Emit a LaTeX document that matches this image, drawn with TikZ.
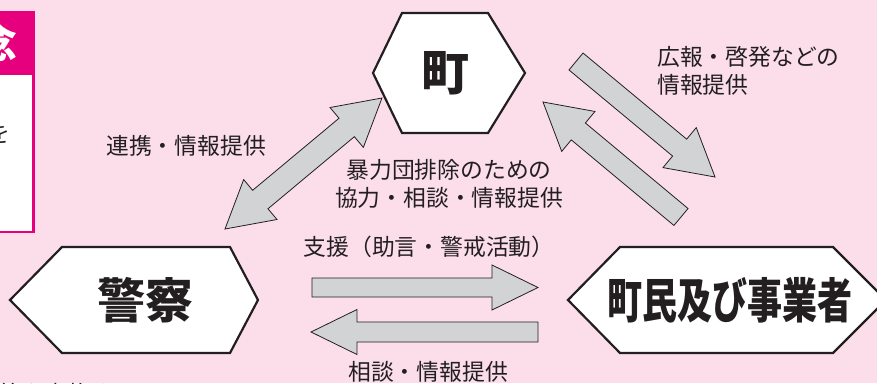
\documentclass[tikz,border=0pt]{standalone}
\usepackage{fontspec}
\newfontfamily\cjk{Noto Sans CJK JP}
\usetikzlibrary{calc}
\definecolor{bgpink}{RGB}{251,222,234}
\definecolor{magen}{RGB}{230,0,126}
\definecolor{agray}{RGB}{209,211,212}
\definecolor{ink}{RGB}{35,31,32}
\tikzset{
  arrowstyle/.style={fill=agray, draw=ink, line width=0.8pt, line join=miter},
  hexstyle/.style={fill=white, draw=ink, line width=2.2pt, line join=miter},
  biglabel/.style={font=\cjk\bfseries\fontsize{48}{50}\selectfont, text=ink, inner sep=0pt},
  lbl/.style={font=\cjk\fontsize{22.8}{27.5}\selectfont, text=ink, inner sep=0pt, align=center},
}
\newcommand\blockarrow[5]{%
  \coordinate (ba-n) at ($(#2)!#5!(#1)$);
  \draw[arrowstyle] ($(#1)!#3!90:(#2)$) -- ($(ba-n)!#3!-90:(#1)$) -- ($(ba-n)!#4!-90:(#1)$) -- (#2) -- ($(ba-n)!#4!90:(#1)$) -- ($(ba-n)!#3!90:(#1)$) -- ($(#1)!#3!-90:(#2)$) -- cycle;
}
\newcommand\dblockarrow[5]{%
  \coordinate (ba-a) at ($(#1)!#5!(#2)$);
  \coordinate (ba-b) at ($(#2)!#5!(#1)$);
  \draw[arrowstyle] (#1) -- ($(ba-a)!#4!90:(#2)$) -- ($(ba-a)!#3!90:(#2)$) -- ($(ba-b)!#3!-90:(#1)$) -- ($(ba-b)!#4!-90:(#1)$) -- (#2) -- ($(ba-b)!#4!90:(#1)$) -- ($(ba-b)!#3!90:(#1)$) -- ($(ba-a)!#3!-90:(#2)$) -- ($(ba-a)!#4!-90:(#2)$) -- cycle;
}
\begin{document}
\begin{tikzpicture}[x=1pt, y=-1pt]
\useasboundingbox (0,0) rectangle (877,383);
\fill[bgpink] (0,0) rectangle (877,383);
\clip (0,0) rectangle (877,383);

% top-left box fragment
\draw[fill=white, draw=magen, line width=2.5pt] (-10,12) rectangle (33.5,232);
\fill[magen] (-10,11) rectangle (34.8,75);
\node[font=\cjk\bfseries\fontsize{40}{40}\selectfont, text=white, inner sep=0pt] (boxhead) at (-2,43) {念};
\node[lbl] (boxbody) at (-1,134) {を};
\node[lbl, anchor=west] (bottomtext) at (-1,394) {策を実施する};

% hexagons
\draw[hexstyle] (402,13) -- (488,13) -- (525,73) -- (488,133) -- (402,133) -- (373,73) -- cycle;
\node[biglabel] (machi) at (445,73) {町};

\draw[hexstyle] (62,247) -- (230,247) -- (258,300) -- (230,353) -- (62,353) -- (10,300) -- cycle;
\node[biglabel] (keisatsu) at (145,300) {警察};

\draw[hexstyle] (620,247) -- (833,247) -- (886,300) -- (833,353) -- (620,353) -- (568,300) -- cycle;
\node[biglabel, xscale=0.73] (jumin) at (730,300) {町民及び事業者};

% arrow end points
\coordinate (d1) at (225,229);
\coordinate (d2) at (382,98);
\coordinate (a1t) at (576,61.5);
\coordinate (a1h) at (715,177);
\coordinate (a2t) at (681,217);
\coordinate (a2h) at (543,102);
\coordinate (h1t) at (312,287.5);
\coordinate (h1h) at (538,287.5);
\coordinate (h2t) at (538,332);
\coordinate (h2h) at (311,332);

\dblockarrow{d1}{d2}{12pt}{26pt}{46pt}
\blockarrow{a1t}{a1h}{11pt}{26pt}{46pt}
\blockarrow{a2t}{a2h}{11pt}{26pt}{46pt}
\blockarrow{h1t}{h1h}{9.5pt}{22.5pt}{46pt}
\blockarrow{h2t}{h2h}{10pt}{22.5pt}{46pt}

% labels
\node[lbl] (l1) at (186,146) {連携・情報提供};
\node[lbl] (l2) at (449,184) {暴力団排除のための\\協力・相談・情報提供};
\node[lbl] (l3) at (429,247) {支援（助言・警戒活動）};
\node[lbl] (l4) at (428,372) {相談・情報提供};
\node[lbl, align=left, anchor=west] (l5) at (657,71) {広報・啓発などの\\情報提供};
\end{tikzpicture}
\end{document}
